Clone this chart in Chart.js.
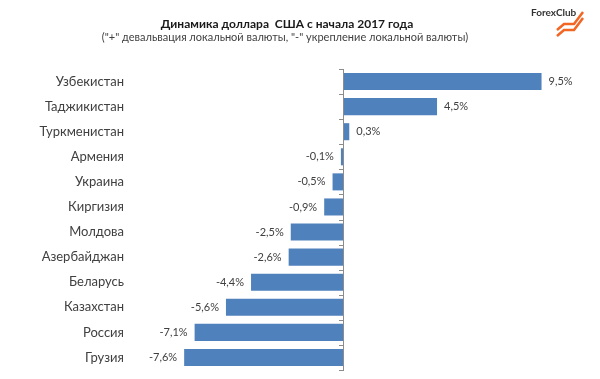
<!DOCTYPE html>
<html>
<head>
<meta charset="utf-8">
<script src="https://cdn.jsdelivr.net/npm/chart.js@4"></script>
<style>
html,body{margin:0;padding:0;background:#fff;}
#c{display:block;}
</style>
</head>
<body>
<canvas id="c" width="600" height="379"></canvas>
<script>
const categories = ['Узбекистан','Таджикистан','Туркменистан','Армения','Украина','Киргизия','Молдова','Азербайджан','Беларусь','Казахстан','Россия','Грузия'];
const values = [9.5, 4.5, 0.3, -0.1, -0.5, -0.9, -2.5, -2.6, -4.4, -5.6, -7.1, -7.6];
const titleText = 'Динамика доллара  США с начала 2017 года';
const subtitleText = '("+" девальвация локальной валюты, "-" укрепление локальной валюты)';
const logoText = 'ForexClub';

const FONT = 'Lato, "Open Sans", sans-serif';

const decor = {
  id: 'decor',
  afterDatasetsDraw(chart) {
    const ctx = chart.ctx;
    const xs = chart.scales.x;
    const ca = chart.chartArea;
    const x0 = xs.getPixelForValue(0);
    ctx.save();
    // zero axis line
    ctx.strokeStyle = '#8c8c8c';
    ctx.lineWidth = 1;
    ctx.beginPath();
    ctx.moveTo(Math.round(x0) + 0.5, ca.top);
    ctx.lineTo(Math.round(x0) + 0.5, ca.bottom);
    ctx.stroke();
    // tick marks at category boundaries
    const n = categories.length;
    const step = (ca.bottom - ca.top) / n;
    ctx.beginPath();
    for (let i = 0; i <= n; i++) {
      const y = Math.round(ca.top + i * step) + 0.5;
      ctx.moveTo(Math.round(x0) - 4, y);
      ctx.lineTo(Math.round(x0) + 1, y);
    }
    ctx.stroke();
    // value labels
    const meta = chart.getDatasetMeta(0);
    ctx.font = '11px ' + FONT;
    ctx.fillStyle = '#404040';
    ctx.textBaseline = 'middle';
    meta.data.forEach((bar, i) => {
      const v = values[i];
      const txt = v.toFixed(1).replace('.', ',') + '%';
      if (v >= 0) {
        ctx.textAlign = 'left';
        ctx.fillText(txt, bar.x + 7, bar.y);
      } else {
        ctx.textAlign = 'right';
        ctx.fillText(txt, bar.x - 7, bar.y);
      }
    });
    // title
    ctx.textAlign = 'center';
    ctx.fillStyle = '#1a1a1a';
    ctx.font = 'bold 12px ' + FONT;
    ctx.fillText(titleText, 287, 24);
    ctx.fillStyle = '#404040';
    ctx.font = '11px ' + FONT;
    ctx.fillText(subtitleText, 285, 37);
    // logo
    ctx.textAlign = 'left';
    ctx.fillStyle = '#333333';
    ctx.font = 'bold 10px ' + FONT;
    ctx.fillText(logoText, 531, 13);
    ctx.strokeStyle = '#f26522';
    ctx.lineWidth = 2.5;
    ctx.lineJoin = 'miter';
    for (let k = 0; k < 2; k++) {
      const dy = k * 6;
      ctx.beginPath();
      ctx.moveTo(557, 30 + dy);
      ctx.lineTo(564, 24 + dy);
      ctx.lineTo(574, 24 + dy);
      ctx.lineTo(583, 12 + dy);
      ctx.stroke();
    }
    ctx.restore();
  }
};

new Chart(document.getElementById('c'), {
  type: 'bar',
  data: {
    labels: categories,
    datasets: [{
      data: values,
      backgroundColor: '#4f81bd',
      borderWidth: 0,
      categoryPercentage: 1,
      barPercentage: 0.68
    }]
  },
  options: {
    indexAxis: 'y',
    responsive: false,
    devicePixelRatio: 1,
    animation: false,
    layout: { padding: { top: 69, right: 48, bottom: 9, left: 0 } },
    plugins: { legend: { display: false }, tooltip: { enabled: false }, title: { display: false } },
    scales: {
      x: { display: false, min: -10, max: 10 },
      y: {
        grid: { display: false, drawTicks: false },
        border: { display: false },
        ticks: { color: '#404040', font: { family: FONT, size: 13 }, padding: 10 },
        afterFit(scale) {
          scale.width = 134;
          scale.paddingTop = 0;
          scale.paddingBottom = 0;
        }
      }
    }
  },
  plugins: [decor]
});
</script>
</body>
</html>
